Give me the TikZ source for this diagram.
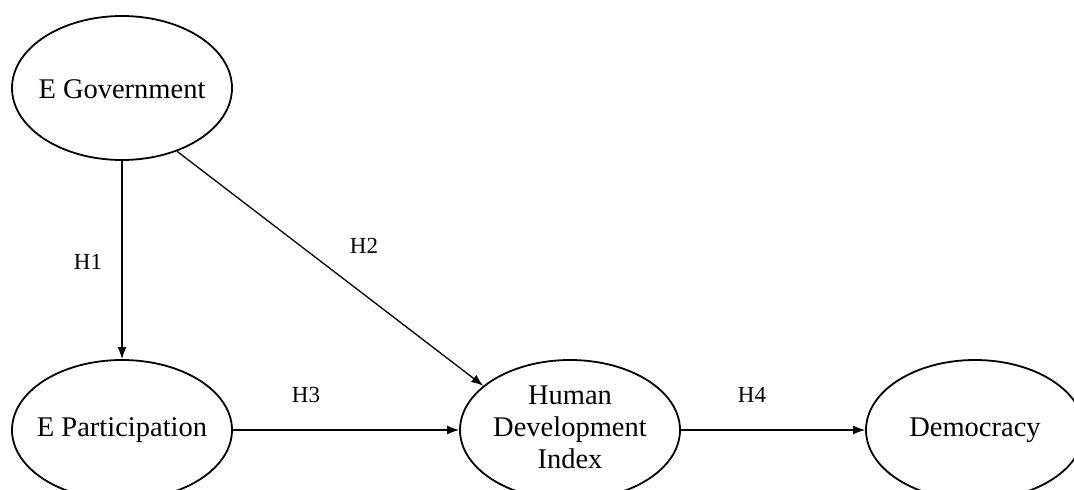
\documentclass[tikz,border=0pt]{standalone}
\usepackage{fontspec}
\setmainfont{Liberation Serif}
\usetikzlibrary{shapes.geometric,arrows.meta}
\newcommand{\fitin}[1]{\makebox[0pt][c]{\begin{tabular}{@{}c@{}}#1\end{tabular}}}
\begin{document}
\begin{tikzpicture}[x=1pt,y=-1pt,
  construct/.style={draw=black,line width=1.8pt,ellipse,minimum width=220pt,minimum height=140pt,inner sep=0pt,font=\fontsize{28.5}{32}\selectfont},
  link/.style={draw=black,line width=1.3pt,-{Latex[length=12pt,width=9pt]}},
  hyp/.style={font=\fontsize{23}{24}\selectfont}]
\useasboundingbox (0,0) rectangle (1074,490);
\node[construct,minimum height=144pt] (egov) at (122,88) {\raisebox{-4pt}[\height][\depth]{\fitin{E Government}}};
\node[construct] (epart) at (122,430) {\fitin{E Participation}};
\node[construct] (hdi) at (570,430) {\fitin{Human\\Development\\Index}};
\node[construct,minimum width=218pt] (dem) at (975,430) {\fitin{Democracy}};
\draw[link] (egov) -- (epart);
\draw[link] (egov.-49.3) -- (hdi.153.4);
\draw[link] (epart) -- (hdi);
\draw[link] (hdi) -- (dem);
\node[hyp] (h1) at (88,262) {H1};
\node[hyp] (h2) at (364,246) {H2};
\node[hyp] (h3) at (306,395) {H3};
\node[hyp] (h4) at (752,395) {H4};
\end{tikzpicture}
\end{document}
